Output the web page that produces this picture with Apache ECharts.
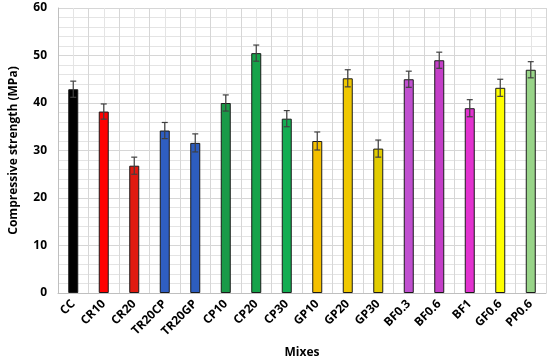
<!DOCTYPE html>
<html><head><meta charset="utf-8">
<script src="https://cdn.jsdelivr.net/npm/echarts@6/dist/echarts.min.js"></script>
<style>html,body{margin:0;padding:0;background:#fff}#c{width:550px;height:364px}</style>
</head><body><div id="c"></div>
<script>
const categories = ['CC','CR10','CR20','TR20CP','TR20GP','CP10','CP20','CP30','GP10','GP20','GP30','BF0.3','BF0.6','BF1','GF0.6','PP0.6'];
const strength = [42.9,38.2,26.8,34.2,31.6,40.0,50.5,36.7,32.0,45.2,30.4,45.0,49.0,38.9,43.2,47.0];
const errors = [1.7,1.6,1.8,1.7,1.9,1.7,1.7,1.7,1.9,1.8,1.8,1.7,1.7,1.8,1.8,1.7];
const barColors = ['#000000','#ff0000','#e01a10','#2f5ec2','#2d5dbf','#1a9a48','#16a34a','#12ad52','#f5c000','#f0c800','#e2cc00','#c050d0','#c43fc8','#e232cf','#ffff00','#98d488'];
const yTicks = [0,10,20,30,40,50,60];

const chart = echarts.init(document.getElementById('c'));
const font = '"Open Sans", "Liberation Sans", sans-serif';
chart.setOption({
  animation: false,
  grid: {left: 53, right: 4, top: 8, bottom: 69},
  xAxis: [{
    type: 'category', data: categories,
    axisLine: {show: true, lineStyle: {color: '#bfbfbf', width: 1}},
    axisTick: {show: false},
    axisLabel: {rotate: 45, color: '#000', fontWeight: 'bold', fontSize: 12, fontFamily: font, margin: 9, interval: 0},
    name: 'Mixes', nameLocation: 'middle', nameGap: 54,
    nameTextStyle: {color: '#000', fontWeight: 'bold', fontSize: 12, fontFamily: font},
    splitLine: {show: false}
  }, {
    type: 'value', min: 0, max: 16, interval: 1, show: true, position: 'bottom',
    axisLine: {show: false}, axisTick: {show: false}, axisLabel: {show: false},
    splitLine: {show: true, lineStyle: {color: '#d6d6d6', width: 1}},
    minorTick: {show: false, splitNumber: 2},
    minorSplitLine: {show: true, lineStyle: {color: '#e4e4e4', width: 1}}
  }],
  yAxis: {
    type: 'value', min: yTicks[0], max: yTicks[yTicks.length-1], interval: 10,
    axisLine: {show: true, lineStyle: {color: '#bfbfbf'}},
    axisTick: {show: false},
    axisLabel: {color: '#000', fontWeight: 'bold', fontSize: 12, fontFamily: font, margin: 11},
    splitLine: {show: true, lineStyle: {color: '#d6d6d6'}},
    minorTick: {show: false, splitNumber: 5},
    minorSplitLine: {show: true, lineStyle: {color: '#e4e4e4'}},
    name: 'Compressive strength (MPa)', nameLocation: 'middle', nameGap: 38,
    nameTextStyle: {color: '#000', fontWeight: 'bold', fontSize: 12, fontFamily: font}
  },
  series: [{
    type: 'bar', xAxisIndex: 0, barWidth: 10,
    data: strength.map((v, i) => ({value: v, itemStyle: {color: barColors[i]}})),
    itemStyle: {borderColor: '#1a1a1a', borderWidth: 1}
  }, {
    type: 'custom', xAxisIndex: 0, z: 5,
    data: strength.map((v, i) => [i, v - errors[i], v + errors[i]]),
    renderItem: function (params, api) {
      const lo = api.coord([api.value(0), api.value(1)]);
      const hi = api.coord([api.value(0), api.value(2)]);
      const w = 3;
      const st = {stroke: '#404040', lineWidth: 1.2};
      return {type: 'group', children: [
        {type: 'line', shape: {x1: hi[0], y1: hi[1], x2: lo[0], y2: lo[1]}, style: st},
        {type: 'line', shape: {x1: hi[0]-w, y1: hi[1], x2: hi[0]+w, y2: hi[1]}, style: st},
        {type: 'line', shape: {x1: lo[0]-w, y1: lo[1], x2: lo[0]+w, y2: lo[1]}, style: st}
      ]};
    }
  }]
});
</script></body></html>
